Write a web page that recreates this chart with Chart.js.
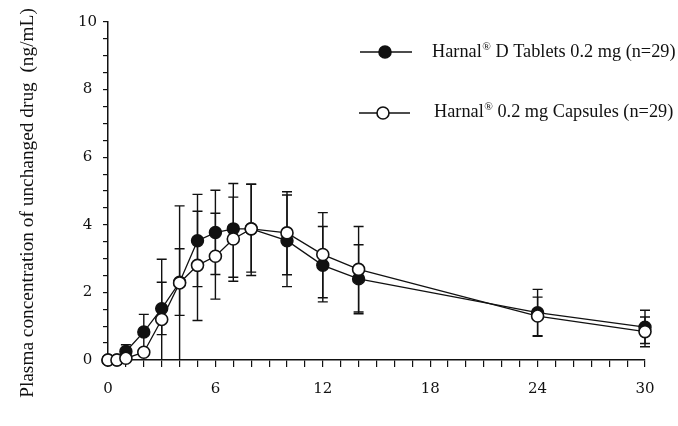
<!DOCTYPE html>
<html><head><meta charset="utf-8">
<script src="https://cdn.jsdelivr.net/npm/chart.js@4.4.0/dist/chart.umd.min.js"></script>
<style>html,body{margin:0;padding:0;background:#fff;}</style>
</head><body>
<canvas id="c" width="678" height="426"></canvas>
<script>
// ---- data ----
const times = [0, 0.5, 1, 2, 3, 4, 5, 6, 7, 8, 10, 12, 14, 24, 30];
const tablets  = [0, 0, 0.25, 0.83, 1.52, 2.30, 3.53, 3.77, 3.88, 3.88, 3.53, 2.80, 2.40, 1.40, 0.97];
const capsules = [0, 0, 0.05, 0.23, 1.20, 2.28, 2.80, 3.07, 3.58, 3.88, 3.76, 3.12, 2.68, 1.30, 0.84];
const tabletsLow   = [null, null, 0.05, 0.32, 0.75, 1.32, 2.17, 2.53, 2.45, 2.60, 2.17, 1.72, 1.37, 0.72, 0.49];
const tabletsHigh  = [null, null, 0.45, 1.35, 2.30, 3.29, 4.90, 5.02, 5.22, 5.20, 4.88, 3.95, 3.41, 2.09, 1.47];
const capsulesLow  = [null, null, null, null, 0.00, 0.00, 1.17, 1.80, 2.33, 2.50, 2.52, 1.84, 1.42, 0.70, 0.39];
const capsulesHigh = [null, null, null, null, 2.98, 4.56, 4.40, 4.34, 4.82, 5.20, 4.98, 4.36, 3.95, 1.86, 1.27];
const xTickLabels = [0, 6, 12, 18, 24, 30];
const yTickLabels = [0, 2, 4, 6, 8, 10];
const yTitle = 'Plasma concentration of unchanged drug  (ng/mL)';
const legendTablets  = ['Harnal', '\u00AE', ' D Tablets 0.2 mg (n=29)'];
const legendCapsules = ['Harnal', '\u00AE', ' 0.2 mg Capsules (n=29)'];

const tickFont = {family: '"DejaVu Serif"', size: 15};
const serif = '"Liberation Serif", "Times New Roman", serif';

const errorBars = {
  id: 'errorBars',
  beforeDatasetsDraw(chart) {
    const {ctx, scales: {x, y}} = chart;
    ctx.save();
    ctx.strokeStyle = '#111';
    ctx.lineWidth = 1.4;
    [[tabletsLow, tabletsHigh], [capsulesLow, capsulesHigh]].forEach(([lo, hi]) => {
      times.forEach((t, i) => {
        if (lo[i] == null || hi[i] == null) return;
        const px = x.getPixelForValue(t);
        const p1 = y.getPixelForValue(lo[i]);
        const p2 = y.getPixelForValue(hi[i]);
        ctx.beginPath();
        ctx.moveTo(px, p1); ctx.lineTo(px, p2);
        ctx.moveTo(px - 5, p2); ctx.lineTo(px + 5, p2);
        if (lo[i] > 0) { ctx.moveTo(px - 5, p1); ctx.lineTo(px + 5, p1); }
        ctx.stroke();
      });
    });
    ctx.restore();
  }
};

function drawSupText(ctx, parts, x, y, size) {
  ctx.textAlign = 'left';
  ctx.textBaseline = 'alphabetic';
  ctx.fillStyle = '#111';
  ctx.font = size + 'px ' + serif;
  ctx.fillText(parts[0], x, y);
  let w = ctx.measureText(parts[0]).width;
  ctx.font = (size * 0.62) + 'px ' + serif;
  ctx.fillText(parts[1], x + w + 0.5, y - size * 0.36);
  w += ctx.measureText(parts[1]).width + 0.5;
  ctx.font = size + 'px ' + serif;
  ctx.fillText(parts[2], x + w, y);
}

const decorations = {
  id: 'decorations',
  afterDraw(chart) {
    const ctx = chart.ctx;
    ctx.save();
    // legend
    const entries = [
      {parts: legendTablets, y: 52, lx1: 360, lx2: 412, cx: 385, tx: 432, ty: 57, fill: '#111'},
      {parts: legendCapsules, y: 113, lx1: 359, lx2: 410, cx: 383, tx: 434, ty: 117, fill: '#fff'}
    ];
    entries.forEach(e => {
      ctx.strokeStyle = '#111';
      ctx.lineWidth = 1.4;
      ctx.beginPath(); ctx.moveTo(e.lx1, e.y); ctx.lineTo(e.lx2, e.y); ctx.stroke();
      ctx.beginPath(); ctx.arc(e.cx, e.y, 6, 0, Math.PI * 2);
      ctx.fillStyle = e.fill; ctx.fill();
      ctx.lineWidth = 1.6; ctx.stroke();
      drawSupText(ctx, e.parts, e.tx, e.ty, 18.3);
    });
    // y-axis title
    ctx.font = '100px ' + serif;
    const w100 = ctx.measureText(yTitle).width;
    const size = 100 * 390 / w100;
    ctx.font = size + 'px ' + serif;
    ctx.translate(28, 203);
    ctx.rotate(-Math.PI / 2);
    ctx.textAlign = 'center';
    ctx.textBaseline = 'middle';
    ctx.fillStyle = '#111';
    ctx.fillText(yTitle, 0, 0);
    ctx.restore();
  }
};

new Chart(document.getElementById('c'), {
  type: 'line',
  data: {
    datasets: [
      {
        label: 'Tablets',
        order: 2,
        data: times.map((t, i) => ({x: t, y: tablets[i]})),
        borderColor: '#111', borderWidth: 1.3,
        pointRadius: 6, pointBackgroundColor: '#111', pointBorderColor: '#111', pointBorderWidth: 1.4,
        tension: 0, clip: false
      },
      {
        label: 'Capsules',
        order: 1,
        data: times.map((t, i) => ({x: t, y: capsules[i]})),
        borderColor: '#111', borderWidth: 1.3,
        pointRadius: 6, pointBackgroundColor: '#fff', pointBorderColor: '#111', pointBorderWidth: 1.6,
        tension: 0, clip: false
      }
    ]
  },
  options: {
    responsive: false,
    devicePixelRatio: 1,
    animation: false,
    events: [],
    layout: {padding: {left: 0, top: 22, right: 33, bottom: 0}},
    plugins: {legend: {display: false}, tooltip: {enabled: false}},
    scales: {
      x: {
        type: 'linear', min: 0, max: 30,
        afterFit(s) { s.height = 66; },
        border: {display: true, color: '#111', width: 1.5},
        grid: {drawOnChartArea: false, drawTicks: true, tickLength: 7, color: '#111', lineWidth: 1.2},
        ticks: {
          stepSize: 1, autoSkip: false, maxRotation: 0, padding: 13,
          color: '#111', font: tickFont,
          callback: v => xTickLabels.includes(v) ? String(v) : ''
        }
      },
      y: {
        type: 'linear', min: 0, max: 10,
        afterFit(s) { s.width = 108; },
        border: {display: true, color: '#111', width: 1.5},
        grid: {drawOnChartArea: false, drawTicks: true, tickLength: 5, color: '#111', lineWidth: 1.2},
        ticks: {
          stepSize: 0.5, autoSkip: false, padding: 6, crossAlign: 'center',
          color: '#111', font: tickFont,
          callback: v => yTickLabels.includes(v) ? String(v) : ''
        }
      }
    }
  },
  plugins: [errorBars, decorations]
});
</script>
</body></html>
